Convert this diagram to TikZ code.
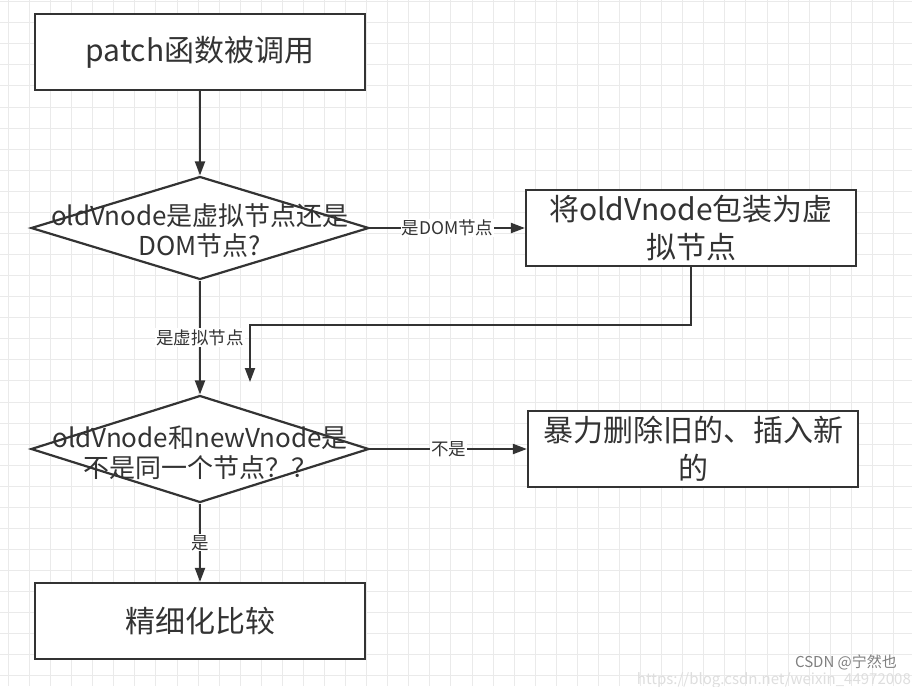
\documentclass[tikz,border=0pt]{standalone}
\usepackage{fontspec}
\setmainfont{Noto Sans CJK SC}
\usetikzlibrary{shapes.geometric,arrows.meta}
\definecolor{ink}{HTML}{333333}
\definecolor{gridline}{HTML}{EAEAEA}
\begin{document}
\begin{tikzpicture}[x=1pt,y=-1pt]
                \useasboundingbox[fill=white] (0,0) rectangle (912,686);
                \foreach \gx in {0,...,43}
                    \draw[gridline,line width=1pt] (8.5+21.07*\gx,0) -- (8.5+21.07*\gx,686);
                \foreach \gy in {0,...,32}
                    \draw[gridline,line width=1pt] (0,1.7+21.07*\gy) -- (912,1.7+21.07*\gy);
                \begin{scope}[every node/.style={draw=ink,line width=2.2pt,fill=white,text=ink,font=\fontsize{30}{38}\selectfont},
                    box/.style={rectangle,align=center,minimum width=330pt,minimum height=76pt},
                    choice/.style={diamond,inner sep=0pt,minimum width=338pt,minimum height=103pt}]
                    \node[box] (patch) at (200,52) {patch函数被调用};
                    \node[choice] (d1) at (200,228) {};
                    \node[box] (wrap) at (691,228) {将oldVnode包装为虚\\拟节点};
                    \node[choice,minimum height=107pt] (d2) at (200,449) {};
                    \node[box] (brute) at (693,449) {暴力删除旧的、插入新\\的};
                    \node[box] (fine) at (200,621) {精细化比较};
                \end{scope}
                \begin{scope}[every node/.style={align=center,text=ink,font=\fontsize{26}{30}\selectfont}]
                    \node (q1) at (200,231) {oldVnode是虚拟节点还是\\DOM节点?};
                    \node (q2) at (200,453) {oldVnode和newVnode是\\不是同一个节点？？};
                \end{scope}
                \coordinate (turn) at (250,325);
                \coordinate (merge) at (250,382);
                \begin{scope}[>={Triangle[length=14pt,width=10pt]},ink,line width=2pt,
                    every node/.style={fill=white,text=ink,inner sep=1pt,font=\fontsize{17.5}{20}\selectfont}]
                    \draw[->] (patch) -- (d1);
                    \draw[->] (d1) -- node{是DOM节点} (wrap);
                    \draw[->] (wrap.south) |- (turn) -- (merge);
                    \draw[->] (d1) -- node{是虚拟节点} (d2);
                    \draw[->] (d2) -- node{不是} (brute);
                    \draw[->] (d2) -- node{是} (fine);
                \end{scope}
                \node[inner sep=0pt,text=black!50,font=\fontsize{15}{18}\selectfont] (mark) at (846,662) {CSDN @宁然也};
                \node[anchor=base east,inner sep=0pt,text=black!13,font=\fontsize{15}{18}\selectfont] (url) at (911,684) {https://blog.csdn.net/weixin\_44972008};
            \end{tikzpicture}
\end{document}
